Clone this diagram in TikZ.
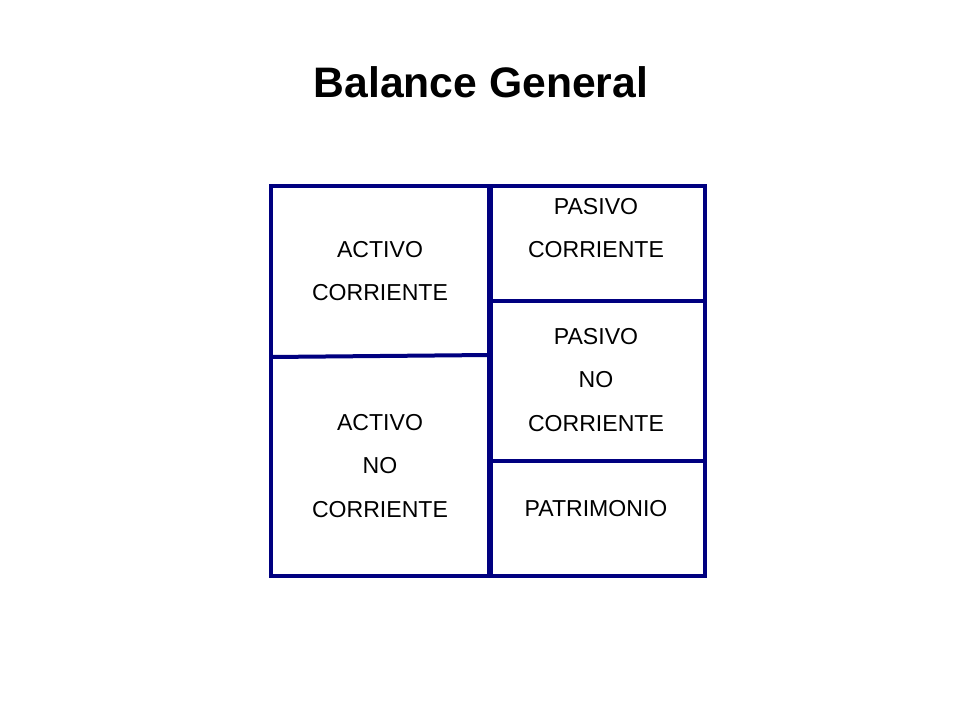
\documentclass[tikz,border=0pt]{standalone}
\usepackage{fontspec}
\setmainfont{Liberation Sans}
\usetikzlibrary{positioning}
\definecolor{navy}{RGB}{0,0,128}
\tikzset{
  frame/.style={draw=navy, line width=3pt},
  label/.style={align=center, font=\fontsize{17.3}{32.3}\selectfont}
}
\begin{document}
\begin{tikzpicture}[x=0.75pt,y=-0.75pt]
\useasboundingbox (0,0) rectangle (960,720);
\node[font=\fontsize{32}{38}\selectfont\bfseries] (title) at (481,82) {Balance General};
% boxes
\draw[frame] (271,186) rectangle (489,576);
\draw[frame] (491,186) rectangle (705,576);
\coordinate (al) at (271,357); \coordinate (ar) at (489,355);
\coordinate (pl1) at (491,301); \coordinate (pr1) at (705,301);
\coordinate (pl2) at (491,461); \coordinate (pr2) at (705,461);
\draw[frame] (al) -- (ar);
\draw[frame] (pl1) -- (pr1);
\draw[frame] (pl2) -- (pr2);
% texts
\node[label] (ac) at (380,271) {ACTIVO\\CORRIENTE};
\node[label] (anc) at (380,466) {ACTIVO\\NO\\CORRIENTE};
\node[label] (pc) at (596,228) {PASIVO\\CORRIENTE};
\node[label] (pnc) at (596,380) {PASIVO\\NO\\CORRIENTE};
\node[label] (pat) at (596,509) {PATRIMONIO};
\end{tikzpicture}
\end{document}
